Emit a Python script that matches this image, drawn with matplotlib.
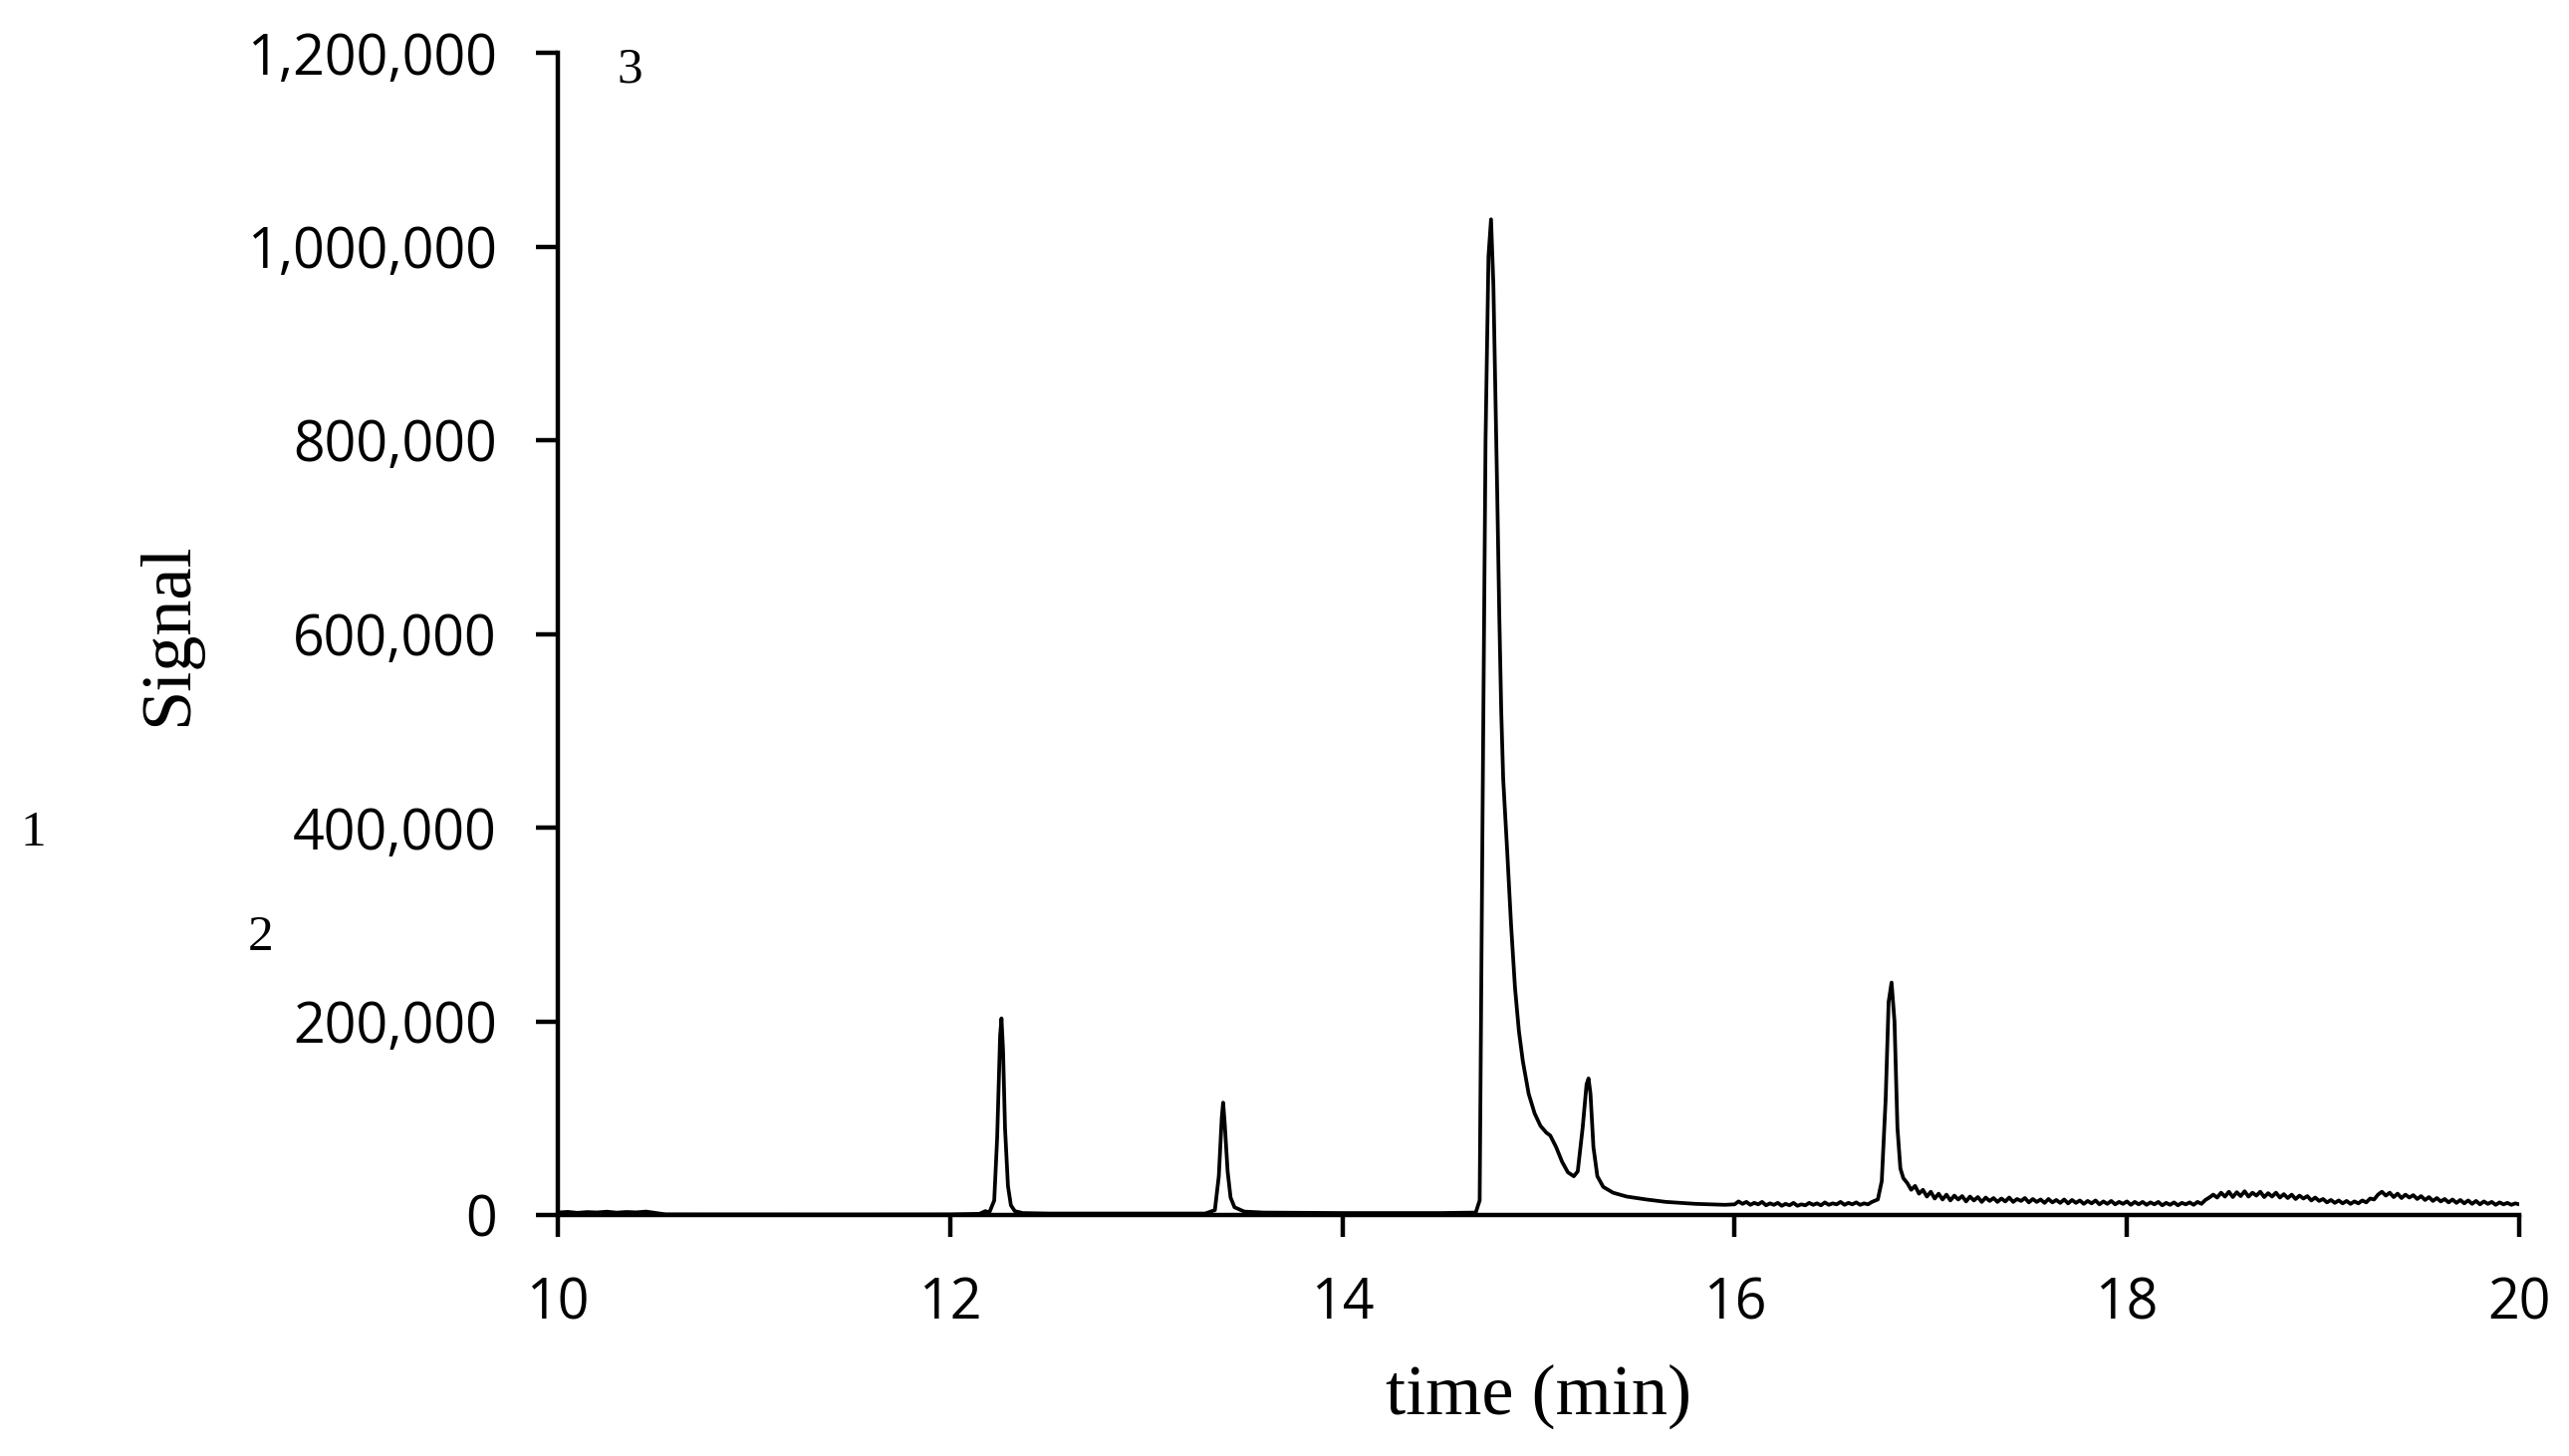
import matplotlib
matplotlib.use("Agg")
import matplotlib.pyplot as plt
from matplotlib.ticker import FuncFormatter

# ---- data ----
time_min = [
    10.00, 10.05, 10.10, 10.15, 10.20, 10.25, 10.30, 10.35, 10.40, 10.45, 10.50, 10.55,
    11.00, 11.50, 12.00, 12.15, 12.18, 12.20,
    12.225, 12.24, 12.255, 12.262, 12.27, 12.28, 12.295, 12.31, 12.33, 12.37,
    12.50, 13.00, 13.30, 13.35, 13.37, 13.385, 13.392, 13.40, 13.415, 13.43, 13.45, 13.50, 13.60,
    14.00, 14.50, 14.68, 14.70, 14.715, 14.73, 14.745, 14.758, 14.77, 14.78, 14.79, 14.80,
    14.81, 14.82, 14.84, 14.86, 14.88, 14.90, 14.92, 14.95, 14.98, 15.01, 15.04, 15.06, 15.09,
    15.12, 15.15, 15.18, 15.20,
    15.225, 15.245, 15.255, 15.265, 15.28, 15.30, 15.33, 15.38, 15.45, 15.55, 15.65, 15.80, 15.95,
    16.00, 16.02, 16.04, 16.06, 16.08, 16.10, 16.12, 16.14, 16.16, 16.18, 16.20, 16.22, 16.24,
    16.26, 16.28, 16.30, 16.32, 16.34, 16.36, 16.38, 16.40, 16.42, 16.44, 16.46, 16.48, 16.50,
    16.52, 16.54, 16.56, 16.58, 16.60, 16.62, 16.64, 16.66, 16.68, 16.70, 16.73, 16.75, 16.77,
    16.785, 16.80, 16.815, 16.83, 16.845, 16.86, 16.88, 16.90, 16.92, 16.94, 16.96, 16.98,
    17.00, 17.02, 17.04, 17.06, 17.08, 17.10, 17.12, 17.14, 17.16, 17.18, 17.20, 17.22, 17.24,
    17.26, 17.28, 17.30, 17.32, 17.34, 17.36, 17.38, 17.40, 17.42, 17.44, 17.46, 17.48, 17.50,
    17.52, 17.54, 17.56, 17.58, 17.60, 17.62, 17.64, 17.66, 17.68, 17.70, 17.72, 17.74, 17.76,
    17.78, 17.80, 17.82, 17.84, 17.86, 17.88, 17.90, 17.92, 17.94, 17.96, 17.98, 18.00, 18.02,
    18.04, 18.06, 18.08, 18.10, 18.12, 18.14, 18.16, 18.18, 18.20, 18.22, 18.24, 18.26, 18.28,
    18.30, 18.32, 18.34, 18.36, 18.38, 18.40, 18.42, 18.44, 18.46, 18.48, 18.50, 18.52, 18.54,
    18.56, 18.58, 18.60, 18.62, 18.64, 18.66, 18.68, 18.70, 18.72, 18.74, 18.76, 18.78, 18.80,
    18.82, 18.84, 18.86, 18.88, 18.90, 18.92, 18.94, 18.96, 18.98, 19.00, 19.02, 19.04, 19.06,
    19.08, 19.10, 19.12, 19.14, 19.16, 19.18, 19.20, 19.22, 19.24, 19.26, 19.28, 19.30, 19.32,
    19.34, 19.36, 19.38, 19.40, 19.42, 19.44, 19.46, 19.48, 19.50, 19.52, 19.54, 19.56, 19.58,
    19.60, 19.62, 19.64, 19.66, 19.68, 19.70, 19.72, 19.74, 19.76, 19.78, 19.80, 19.82, 19.84,
    19.86, 19.88, 19.90, 19.92, 19.94, 19.96, 19.98, 20.00,
]
signal = [
    2500, 3200, 2200, 3000, 2600, 3400, 2400, 3100, 2700, 3500, 2000, 600,
    500, 500, 600, 1200, 4000, 2500,
    15000, 80000, 185000, 203000, 170000, 90000, 30000, 10000, 4000, 2000,
    1500, 1500, 1500, 5000, 40000, 100000, 116000, 95000, 45000, 18000, 8000, 3500, 2500,
    2000, 2000, 2500, 15000, 420000, 800000, 990000, 1028000, 960000, 850000, 740000, 620000,
    520000, 450000, 377000, 300000, 235000, 190000, 159000, 125000, 105000, 92000, 85000, 82000, 70000,
    55000, 44000, 40000, 45000,
    90000, 135000, 141000, 125000, 70000, 40000, 29000, 23000, 19000, 16000, 13500, 11500, 10500,
    11000, 14000, 11500, 13500, 10500, 12500, 11000, 13500, 10000, 12000, 10500, 12500, 9500,
    11500, 10000, 12500, 9500, 11000, 10000, 12500, 10500, 12000, 10000, 13000, 10500, 12000,
    11000, 13500, 10500, 12500, 11000, 13000, 10500, 12000, 11000, 13500, 16000, 35000, 120000,
    220000, 240000, 200000, 90000, 48000, 38000, 33000, 26000, 30000, 22000, 26000, 19000, 24000,
    17000, 22000, 16000, 21000, 15000, 20000, 16000, 19500, 14000, 19000, 15000, 18500, 13500,
    18000, 14500, 17500, 13500, 17000, 14000, 18000, 13500, 16500, 14500, 17500, 13000, 16500,
    13500, 16000, 12500, 16500, 13000, 15500, 12500, 16000, 12000, 15500, 12500, 15000, 11500,
    14500, 12000, 15000, 11000, 14000, 11500, 14500, 11000, 13500, 11500, 14000, 10500, 13500,
    11000, 13500, 10500, 13000, 11000, 13500, 10000, 12500, 10500, 13000, 10000, 12500, 11000,
    13000, 10500, 13500, 11500, 15500, 18000, 21000, 18000, 23000, 19000, 24000, 18500, 23500,
    19500, 24500, 19000, 23000, 20000, 24000, 18500, 22500, 19000, 23000, 18000, 21500, 17500,
    21000, 16500, 20000, 17000, 19500, 15000, 18000, 14500, 16500, 13000, 15500, 12500, 15000,
    12000, 14500, 11500, 14000, 12000, 15000, 13000, 17000, 16000, 21000, 24000, 20000, 23000,
    18500, 22000, 17500, 21000, 18000, 20500, 16500, 19500, 15500, 18500, 14500, 17500, 14000,
    16500, 13000, 16000, 12500, 15500, 12000, 15000, 11500, 14500, 11000, 14000, 11500, 13500,
    10500, 13000, 11000, 12500, 10500, 12000, 11000,
]

x_ticks = [10, 12, 14, 16, 18, 20]
y_ticks = [0, 200000, 400000, 600000, 800000, 1000000, 1200000]
peak_numbers = ["1", "2", "3"]

# ---- figure ----
fig = plt.figure(figsize=(25.79, 14.62), dpi=100)
ax = fig.add_axes([560 / 2579, 1 - 1220 / 1462, 1969 / 2579, 1167 / 1462])

ax.plot(time_min, signal, color="black", linewidth=2.7, solid_joinstyle="round")

ax.set_xlim(10, 20)
ax.set_ylim(0, 1200000)
ax.set_xticks(x_ticks)
ax.set_yticks(y_ticks)
ax.yaxis.set_major_formatter(FuncFormatter(lambda v, p: f"{int(v):,}"))

for s in ["top", "right"]:
    ax.spines[s].set_visible(False)
for s in ["left", "bottom"]:
    ax.spines[s].set_linewidth(3.2)
    ax.spines[s].set_color("black")

ax.tick_params(axis="both", which="major", direction="out", length=16, width=3.2,
               colors="black", labelsize=40)
ax.tick_params(axis="y", pad=28)
ax.tick_params(axis="x", pad=28)
for lab in ax.get_xticklabels() + ax.get_yticklabels():
    lab.set_fontfamily("Open Sans")

ax.set_xlabel("time (min)", fontfamily="Liberation Serif", fontsize=52)
ax.xaxis.set_label_coords(0.5, -0.128)
ax.set_ylabel("Signal", fontfamily="Liberation Serif", fontsize=52)
ax.yaxis.set_label_coords(-0.182, 0.5)

# peak number annotations (placed as in the original figure)
num_pos = [(33, 837), (262, 942), (632, 70)]
for t, (px, py) in zip(peak_numbers, num_pos):
    fig.text(px / 2579, 1 - py / 1462, t, fontfamily="Liberation Serif", fontsize=37,
             ha="center", va="center", color="black")

fig.savefig("out.png", dpi=100, facecolor="white")
